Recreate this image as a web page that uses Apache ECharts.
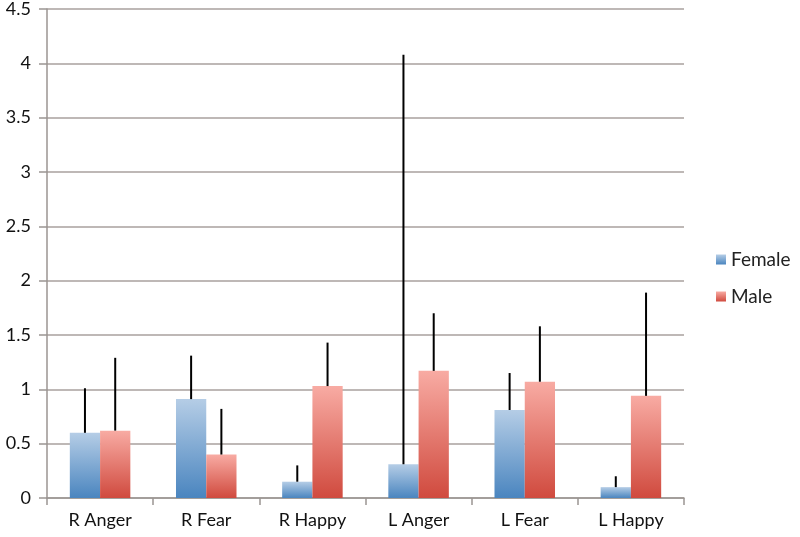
<!DOCTYPE html>
<html><head><meta charset="utf-8">
<script src="https://cdn.jsdelivr.net/npm/echarts@6/dist/echarts.min.js"></script>
<style>html,body{margin:0;padding:0;background:#fff}#c{width:800px;height:537px}</style>
</head><body><div id="c"></div>
<script>
var categories = ['R Anger', 'R Fear', 'R Happy', 'L Anger', 'L Fear', 'L Happy'];
var femaleValues = [0.60, 0.91, 0.15, 0.31, 0.81, 0.10];
var femaleErrTop = [1.01, 1.31, 0.30, 4.08, 1.15, 0.20];
var maleValues = [0.62, 0.40, 1.03, 1.17, 1.07, 0.94];
var maleErrTop = [1.29, 0.82, 1.43, 1.70, 1.58, 1.89];
var yTicks = [0, 0.5, 1, 1.5, 2, 2.5, 3, 3.5, 4, 4.5];

var BAR_W = 0.285; // fraction of category band
var chart = echarts.init(document.getElementById('c'));
function grad(top, bottom) {
  return new echarts.graphic.LinearGradient(0, 0, 0, 1, [{offset: 0, color: top}, {offset: 1, color: bottom}]);
}
function errSeries(name, vals, tops, side) {
  return {
    type: 'custom', name: name + ' err', silent: true, z: 5,
    data: vals.map(function (v, i) { return [i, v, tops[i]]; }),
    renderItem: function (params, api) {
      var i = api.value(0);
      var p0 = api.coord([i, api.value(1)]);
      var p1 = api.coord([i, api.value(2)]);
      var band = api.size([1, 0])[0];
      var x = p0[0] + side * band * BAR_W / 2;
      return { type: 'line', shape: {x1: x, y1: p0[1], x2: x, y2: p1[1]}, style: {stroke: '#000', lineWidth: 2} };
    }
  };
}
chart.setOption({
  animation: false,
  textStyle: { fontFamily: 'Lato, "Open Sans", sans-serif' },
  grid: { left: 47, right: 116, top: 7, bottom: 39 },
  legend: {
    orient: 'vertical', left: 711, top: 245, itemWidth: 10, itemHeight: 10, itemGap: 18,
    icon: 'rect',
    textStyle: { fontSize: 19, color: '#222', fontFamily: 'Lato, "Open Sans", sans-serif' },
    data: ['Female', 'Male']
  },
  xAxis: {
    type: 'category', data: categories,
    axisLine: { lineStyle: { color: '#9b9592', width: 1.5 } },
    axisTick: { show: true, length: 7, lineStyle: { color: '#9b9592', width: 1.5 } },
    axisLabel: { fontSize: 18, color: '#111', margin: 13 }
  },
  yAxis: {
    type: 'value', min: 0, max: 4.5, interval: 0.5,
    axisLine: { show: true, lineStyle: { color: '#9b9592', width: 1.5 } },
    axisTick: { show: true, length: 8, lineStyle: { color: '#9b9592', width: 1.5 } },
    splitLine: { lineStyle: { color: '#a8a19e', width: 1.5 } },
    axisLabel: { fontSize: 18, color: '#111', margin: 16,
      formatter: function (v) { return yTicks.indexOf(v) >= 0 ? String(v) : ''; } }
  },
  series: [
    { name: 'Female', type: 'bar', data: femaleValues, barWidth: (BAR_W * 100) + '%', barGap: '0%',
      itemStyle: { color: grad('#b5cde6', '#4a85bf') } },
    { name: 'Male', type: 'bar', data: maleValues, barWidth: (BAR_W * 100) + '%', barGap: '0%',
      itemStyle: { color: grad('#f8aba3', '#d04a3e') } },
    errSeries('Female', femaleValues, femaleErrTop, -1),
    errSeries('Male', maleValues, maleErrTop, 1)
  ]
});
</script></body></html>
